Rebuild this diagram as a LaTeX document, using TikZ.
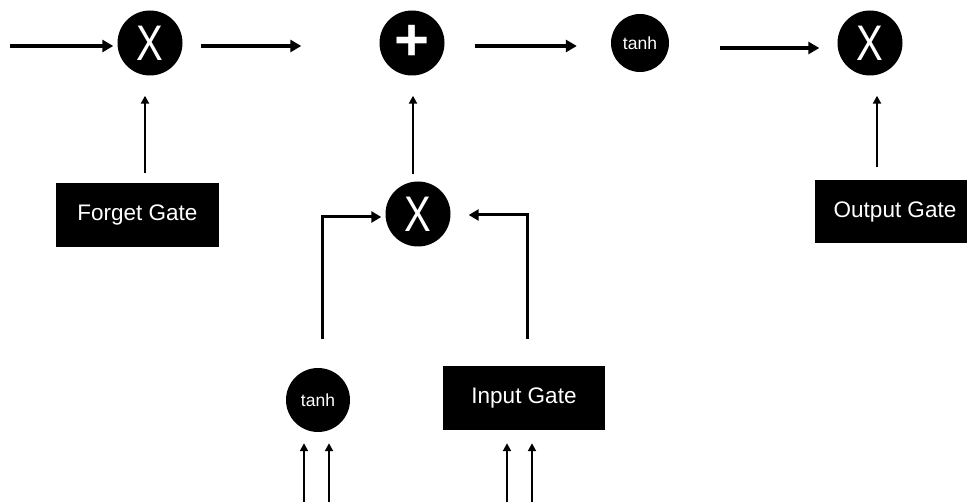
\documentclass[tikz,border=0pt]{standalone}
\usepackage{fontspec}
\setmainfont{Liberation Sans}
\usetikzlibrary{arrows.meta}
\tikzset{
  op/.style={circle, fill=black, inner sep=0pt, minimum size=#1, text=white},
  gatebox/.style={rectangle, fill=black, inner sep=0pt, text=white,
    font=\fontsize{22.5}{26}\selectfont},
  harr/.style={line width=3.2pt, -{Triangle[length=11pt,width=12pt]}},
  varr/.style={line width=2pt, -{Triangle[length=8pt,width=8pt]}},
  feed/.style={line width=3pt, -{Triangle[length=10pt,width=11pt]}},
  inarr/.style={line width=2.4pt, -{Triangle[length=8pt,width=8pt]}},
  xglyph/.style={font=\fontsize{50}{52}\selectfont},
  tanhglyph/.style={font=\fontsize{17.5}{20}\selectfont},
}
\newcommand{\bigX}{\scalebox{0.8}[1]{X}}
\begin{document}
\begin{tikzpicture}[x=1pt, y=-1pt]
\useasboundingbox (0,0) rectangle (967,502);
% top row
\node[op=65pt, xglyph] (x1) at (150,43) {\bigX};
\node[op=65pt, font=\fontsize{60}{62}\selectfont\bfseries] (plus) at (412,43) {+};
\node[op=58pt, tanhglyph] (th1) at (640,43) {tanh};
\node[op=65pt, xglyph] (x3) at (870,43) {\bigX};
% middle
\node[op=65pt, xglyph] (xm) at (418,214) {\bigX};
% gates
\node[gatebox, minimum width=163pt, minimum height=64pt] (fg) at (137.5,215) {Forget Gate};
\node[gatebox, minimum width=160pt, minimum height=63pt] (og) at (895,211.5) {Output Gate};
\node[gatebox, minimum width=162pt, minimum height=64pt] (ig) at (524,398) {Input Gate};
\node[op=64pt, tanhglyph] (th2) at (318,400) {tanh};
% free ends
\coordinate (cin) at (10,46);
\coordinate (lstart) at (322,339);
\coordinate (rstart) at (527,339);
\coordinate (b1) at (304,502);
\coordinate (b2) at (329,502);
\coordinate (b3) at (507,502);
\coordinate (b4) at (532,502);
% top arrows
\draw[harr] (cin) -- ([xshift=-4pt,yshift=-3pt]x1.west);
\draw[harr] ([xshift=18pt,yshift=-3pt]x1.east) -- ([xshift=-78pt,yshift=-3pt]plus.west);
\draw[harr] ([xshift=30pt,yshift=-3pt]plus.east) -- ([xshift=-34pt,yshift=-3pt]th1.west);
\draw[harr] ([xshift=51pt,yshift=-5pt]th1.east) -- ([xshift=-18pt,yshift=-5pt]x3.west);
% vertical arrows
\draw[varr] ([xshift=7.5pt,yshift=10pt]fg.north) -- ([xshift=-5pt,yshift=-20pt]x1.south);
\draw[varr] ([xshift=-5pt,yshift=7pt]xm.north) -- ([xshift=1pt,yshift=-20pt]plus.south);
\draw[varr] ([xshift=-18pt,yshift=13pt]og.north) -- ([xshift=7pt,yshift=-20pt]x3.south);
% feeders into middle X
\draw[feed] (lstart) |- ([xshift=-4pt,yshift=-3pt]xm.west);
\draw[feed] (rstart) |- ([xshift=18pt,yshift=-1pt]xm.east);
% inputs from below
\draw[inarr] (b1) -- ([xshift=-14pt,yshift=-11pt]th2.south);
\draw[inarr] (b2) -- ([xshift=11pt,yshift=-11pt]th2.south);
\draw[inarr] (b3) -- ([xshift=-17pt,yshift=-13pt]ig.south);
\draw[inarr] (b4) -- ([xshift=8pt,yshift=-13pt]ig.south);
\end{tikzpicture}
\end{document}
